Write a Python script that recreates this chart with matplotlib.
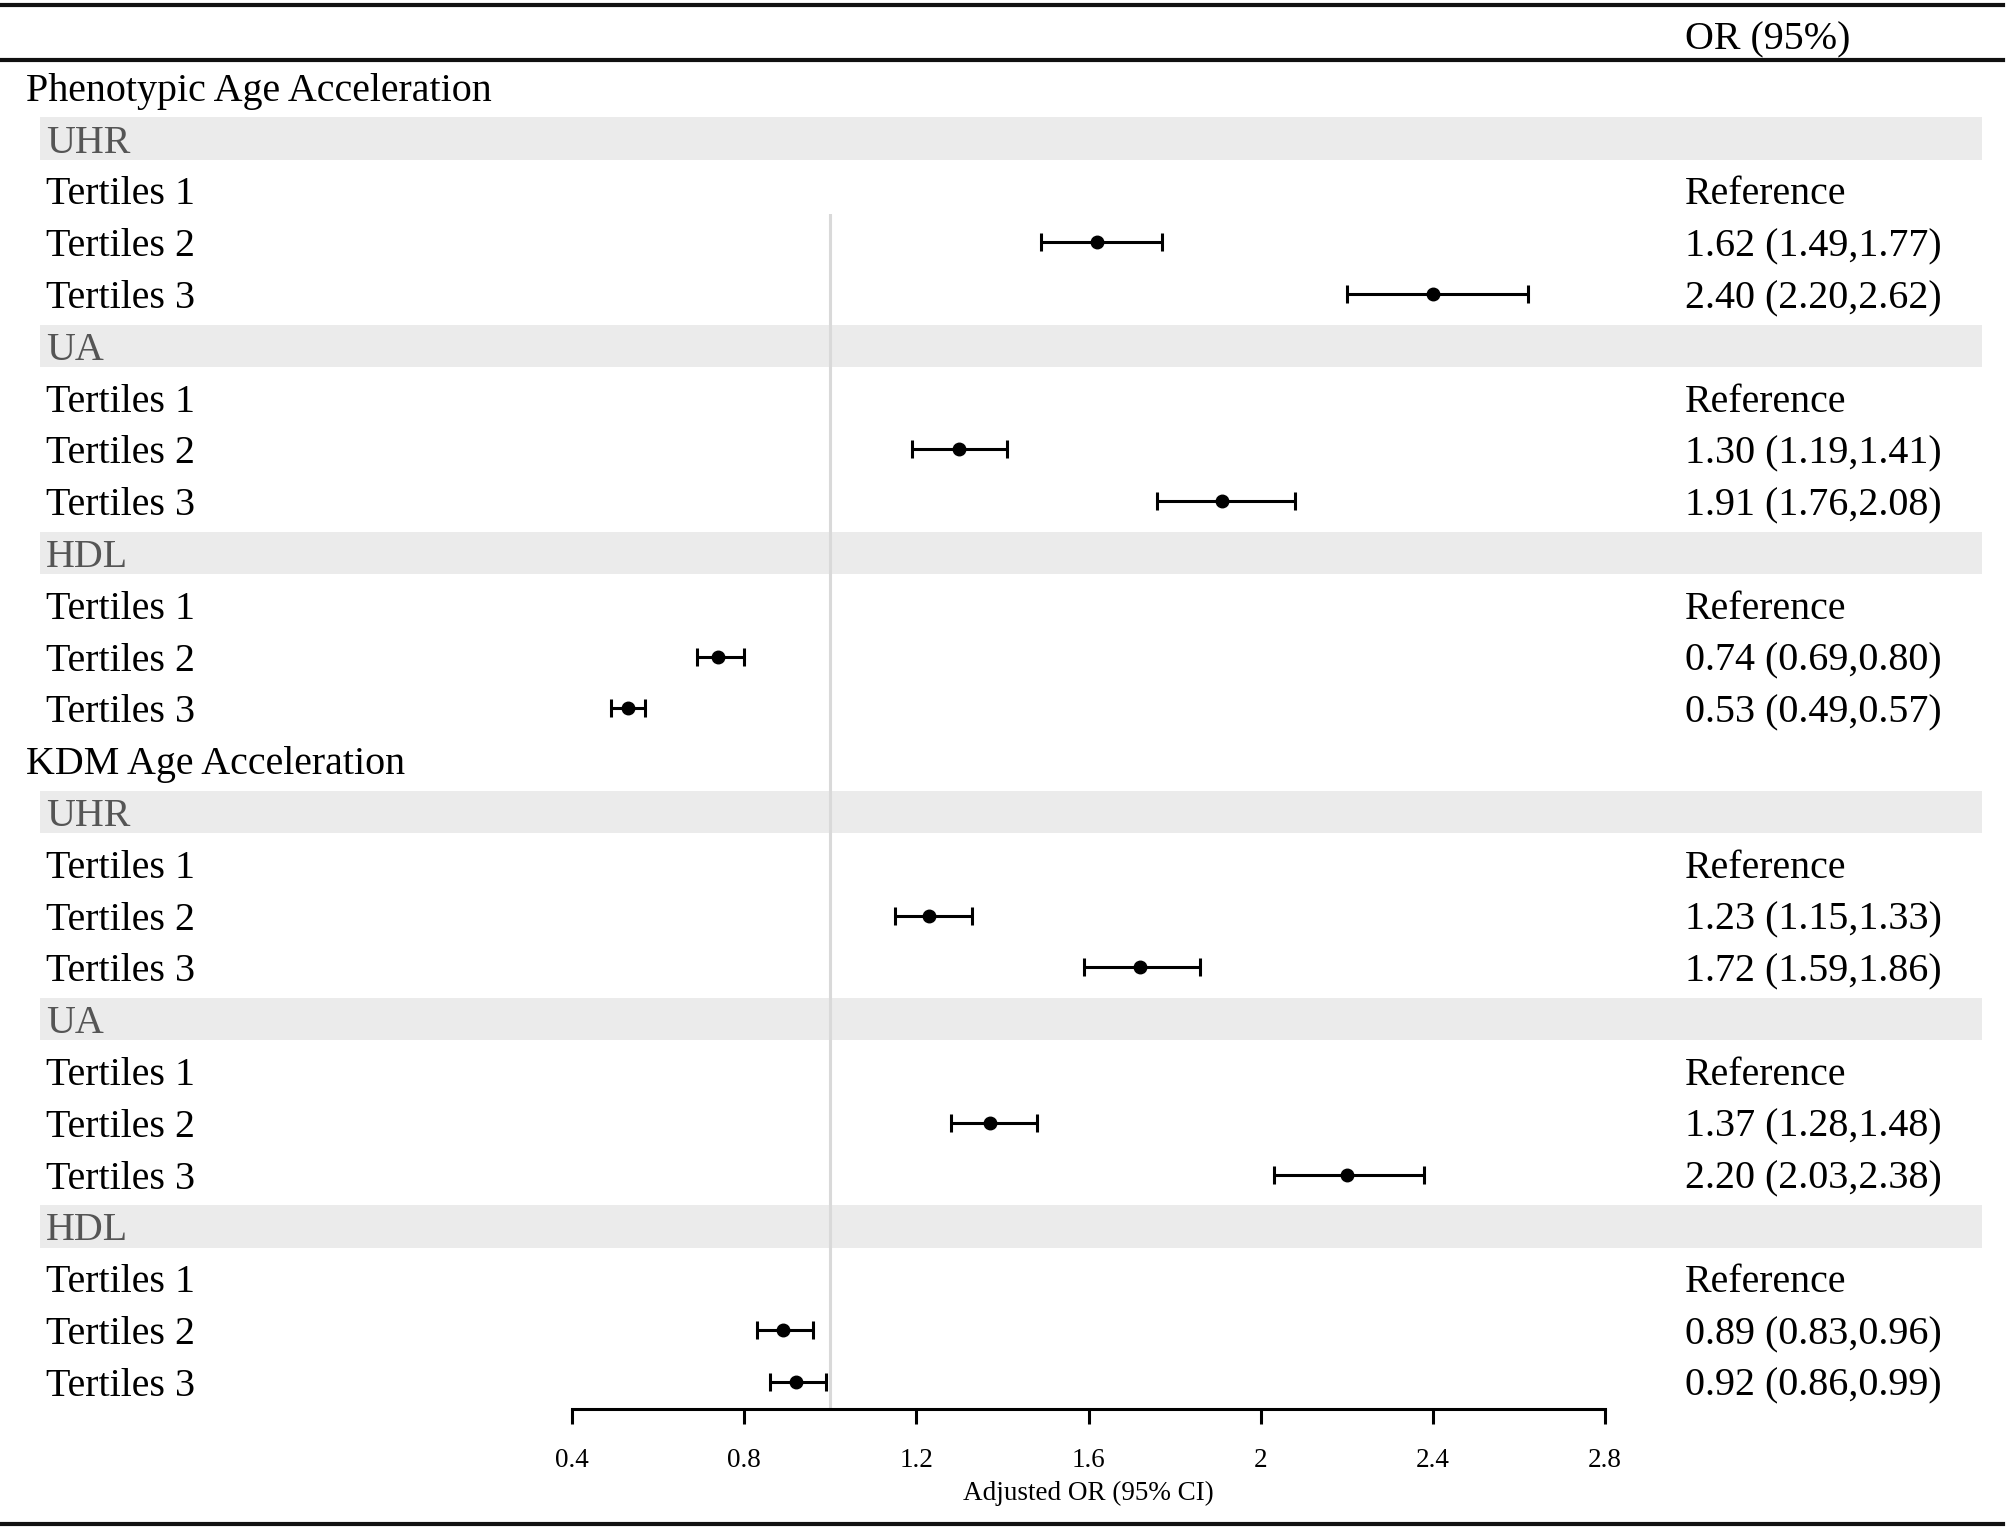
import matplotlib.pyplot as plt
import numpy as np

plt.rcParams["font.family"] = ["Liberation Serif", "DejaVu Serif"]

# ---- data ----
outcomes = ["Phenotypic Age Acceleration", "KDM Age Acceleration"]
markers = ["UHR", "UA", "HDL"]
levels = ["Tertiles 1", "Tertiles 2", "Tertiles 3"]

# tertile 2 and 3 estimates, ordered UHR T2, UHR T3, UA T2, UA T3, HDL T2, HDL T3
pheno_or = [1.62, 2.40, 1.30, 1.91, 0.74, 0.53]
pheno_lo = [1.49, 2.20, 1.19, 1.76, 0.69, 0.49]
pheno_hi = [1.77, 2.62, 1.41, 2.08, 0.80, 0.57]

kdm_or = [1.23, 1.72, 1.37, 2.20, 0.89, 0.92]
kdm_lo = [1.15, 1.59, 1.28, 2.03, 0.83, 0.86]
kdm_hi = [1.33, 1.86, 1.48, 2.38, 0.96, 0.99]

x_ticks = [0.4, 0.8, 1.2, 1.6, 2, 2.4, 2.8]
x_tick_labels = ["0.4", "0.8", "1.2", "1.6", "2", "2.4", "2.8"]

# ---- layout (pixels of a 2008 x 1530 canvas) ----
W, H = 2008, 1530
ROW0 = 35.0      # centre of the header row
PITCH = 51.8     # row pitch


def px_to_row(py):
    return (py - ROW0) / PITCH


fig = plt.figure(figsize=(W / 100, H / 100), dpi=100)

ax = fig.add_axes([0, 0, 1, 1])
ax.set_xlim(0, 1)
ax.set_ylim(px_to_row(H), px_to_row(0))
ax.axis("off")

# rules
for py in (5, 60, 1524):
    ax.axhline(px_to_row(py), xmin=0, xmax=2003 / W, color="#111111", lw=3.0)

TXT = 28.8
ax.text(1685 / W, 0, "OR (95%)", fontsize=TXT, va="center_baseline", ha="left")

# forest axes
f_left, f_right = 572, 1605
f_top, f_bot = 214, 1409
axf = fig.add_axes([f_left / W, 1 - f_bot / H, (f_right - f_left) / W, (f_bot - f_top) / H])
axf.set_facecolor("none")
axf.set_xlim(0.4, 2.8)
axf.set_ylim(px_to_row(f_bot), px_to_row(f_top))
axf.axvline(1.0, color="#d9d9d9", lw=2.2, zorder=1)

all_or = [pheno_or, kdm_or]
all_lo = [pheno_lo, kdm_lo]
all_hi = [pheno_hi, kdm_hi]

for o, name in enumerate(outcomes):
    r = 1 + o * 13
    ax.text(26 / W, r, name, fontsize=TXT, va="center_baseline", ha="left")
    for m, mk in enumerate(markers):
        rm = r + 1 + m * 4
        ax.axhspan(rm - 0.41, rm + 0.41, xmin=40 / W, xmax=1982 / W,
                   color="#ebebeb", lw=0, zorder=0)
        ax.text(46 / W, rm, mk, fontsize=TXT, va="center_baseline", ha="left",
                color="#555555")
        for t, lv in enumerate(levels):
            rt = rm + 1 + t
            ax.text(46 / W, rt, lv, fontsize=TXT, va="center_baseline", ha="left")
            if t == 0:
                ax.text(1685 / W, rt, "Reference", fontsize=TXT,
                        va="center_baseline", ha="left")
                continue
            k = m * 2 + (t - 1)
            est, lo, hi = all_or[o][k], all_lo[o][k], all_hi[o][k]
            ax.text(1685 / W, rt, f"{est:.2f} ({lo:.2f},{hi:.2f})", fontsize=TXT,
                    va="center_baseline", ha="left")
            axf.errorbar([est], [rt], xerr=[[est - lo], [hi - est]], fmt="o",
                         color="black", ms=9, capsize=6.5, elinewidth=2.2,
                         capthick=2.2, zorder=3)

for side in ("top", "right", "left"):
    axf.spines[side].set_visible(False)
axf.spines["bottom"].set_linewidth(2.2)
axf.set_yticks([])
axf.set_xticks(x_ticks)
axf.set_xticklabels(x_tick_labels)
axf.tick_params(axis="x", length=11, width=2.2, pad=17, labelsize=19.5)
axf.set_xlabel("Adjusted OR (95% CI)", fontsize=19.5, labelpad=6)

fig.savefig("out.png", dpi=100)
